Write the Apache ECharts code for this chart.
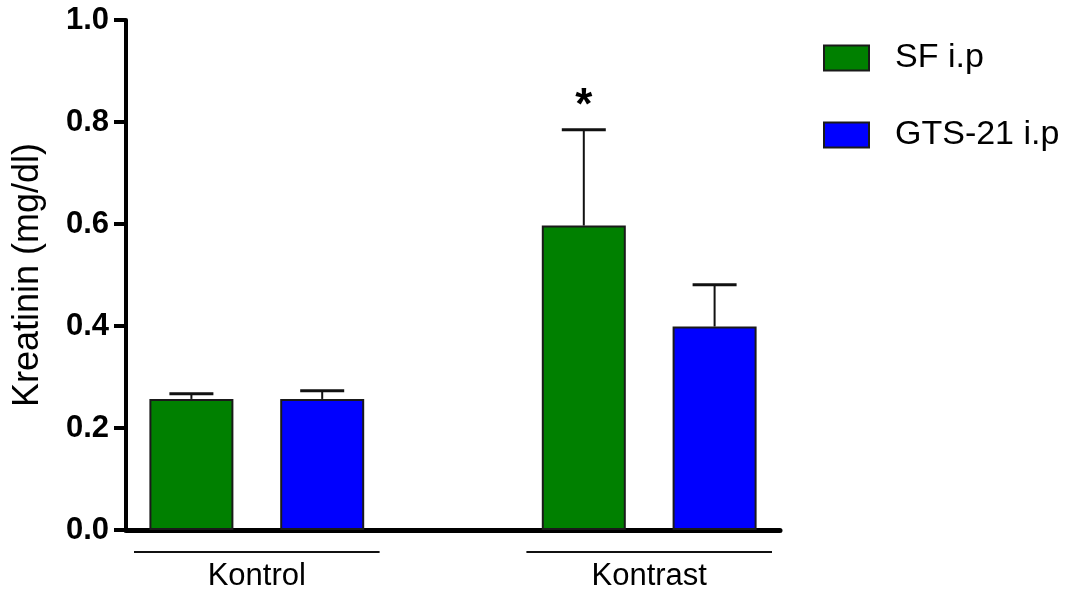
<!DOCTYPE html>
<html>
<head>
<meta charset="utf-8">
<script src="https://cdn.jsdelivr.net/npm/echarts@6/dist/echarts.min.js"></script>
<style>
  html, body { margin: 0; padding: 0; background: #ffffff; }
  #chart { width: 1081px; height: 598px; }
</style>
</head>
<body>
<div id="chart"></div>
<script>
// Serum creatinine by group and treatment (mean + SEM)
const groups = ['Kontrol', 'Kontrast'];
const seriesNames = ['SF i.p', 'GTS-21 i.p'];
const sfMean = [0.257, 0.597];
const sfSem = [0.010, 0.188];
const gtsMean = [0.257, 0.399];
const gtsSem = [0.016, 0.082];
const sfMarks = ['', '*'];
const gtsMarks = ['', ''];
const yTicks = [0, 0.2, 0.4, 0.6, 0.8, 1.0];
const yTitle = 'Kreatinin (mg/dl)';

const FONT = "'Liberation Sans', Arial, Helvetica, sans-serif";
const colors = ['#008000', '#0000ff'];

// each group takes two bar slots, with one empty slot between groups
const slotsPerGroup = 3;
const slotCount = groups.length * slotsPerGroup - 1;
const slotIndex = (g, s) => g * slotsPerGroup + s;

const means = [sfMean, gtsMean];
const sems = [sfSem, gtsSem];
const marks = [sfMarks, gtsMarks];

const barSeries = seriesNames.map((name, s) => ({
  name: name,
  type: 'bar',
  barWidth: 84,
  barGap: '-100%',
  itemStyle: { color: colors[s], borderColor: '#1a1a1a', borderWidth: 2 },
  data: groups.map((g, gi) => [slotIndex(gi, s), means[s][gi]]),
  z: 2
}));

// upper error bar with optional significance marker
const errData = [];
seriesNames.forEach((name, s) => {
  groups.forEach((g, gi) => {
    errData.push([slotIndex(gi, s), means[s][gi], sems[s][gi], marks[s][gi]]);
  });
});

const errorSeries = {
  type: 'custom',
  name: 'sem',
  data: errData,
  z: 3,
  renderItem: function (params, api) {
    const x = api.value(0);
    const mean = api.value(1);
    const sem = api.value(2);
    const mark = errData[params.dataIndex][3];
    const base = api.coord([x, mean]);
    const top = api.coord([x, mean + sem]);
    const half = 22;
    const children = [
      { type: 'line', shape: { x1: base[0], y1: base[1], x2: top[0], y2: top[1] },
        style: { stroke: '#111', lineWidth: 2 } },
      { type: 'line', shape: { x1: top[0] - half, y1: top[1], x2: top[0] + half, y2: top[1] },
        style: { stroke: '#111', lineWidth: 3 } }
    ];
    if (mark) {
      children.push({ type: 'text', style: { text: mark, x: top[0], y: top[1] - 1,
        align: 'center', verticalAlign: 'bottom', fill: '#000',
        font: 'bold 44px ' + FONT } });
    }
    return { type: 'group', children: children };
  }
};

// group underline and name below the axis
const groupSeries = {
  type: 'custom',
  name: 'groups',
  data: groups.map((g, gi) => [slotIndex(gi, 0), slotIndex(gi, 1)]),
  z: 3,
  clip: false,
  renderItem: function (params, api) {
    const a = api.coord([api.value(0), 0]);
    const b = api.coord([api.value(1), 0]);
    const halfSlot = api.size([1, 0])[0] / 2;
    const x1 = a[0] - halfSlot + 8;
    const x2 = b[0] + halfSlot - 8;
    const y = a[1] + 22;
    return {
      type: 'group',
      children: [
        { type: 'line', shape: { x1: x1, y1: y, x2: x2, y2: y },
          style: { stroke: '#111', lineWidth: 2 } },
        { type: 'text', style: { text: groups[params.dataIndex], x: (x1 + x2) / 2, y: y + 24,
          align: 'center', verticalAlign: 'middle', fill: '#000', font: '31px ' + FONT } }
      ]
    };
  }
};

const chart = echarts.init(document.getElementById('chart'), null, { renderer: 'canvas' });
chart.setOption({
  animation: false,
  backgroundColor: '#ffffff',
  grid: { left: 126, top: 20, width: 654, height: 510, containLabel: false, outerBoundsMode: 'none' },
  legend: {
    data: seriesNames.map(n => ({ name: n, icon: 'rect' })),
    orient: 'vertical',
    left: 823,
    top: 41,
    padding: 0,
    itemWidth: 45,
    itemHeight: 25,
    itemGap: 43,
    selectedMode: false,
    textStyle: { fontFamily: FONT, fontSize: 34, color: '#000', padding: [0, 0, 0, 21] }
  },
  xAxis: {
    type: 'category',
    data: Array.from({ length: slotCount }, (_, i) => String(i)),
    boundaryGap: true,
    axisLine: { lineStyle: { color: '#000', width: 5 } },
    axisTick: { show: false },
    axisLabel: { show: false },
    splitLine: { show: false }
  },
  yAxis: {
    type: 'value',
    min: yTicks[0],
    max: yTicks[yTicks.length - 1],
    interval: 0.2,
    name: yTitle,
    nameLocation: 'middle',
    nameGap: 80,
    nameRotate: 90,
    nameTextStyle: { fontFamily: FONT, fontSize: 36, color: '#000' },
    axisLine: { show: true, lineStyle: { color: '#000', width: 4 } },
    axisTick: { show: true, inside: false, length: 12, lineStyle: { color: '#000', width: 4 } },
    axisLabel: { margin: 17, fontFamily: FONT, fontWeight: 'bold', fontSize: 31, color: '#000',
      formatter: v => v.toFixed(1) },
    splitLine: { show: false }
  },
  series: [...barSeries, errorSeries, groupSeries]
});
</script>
</body>
</html>
